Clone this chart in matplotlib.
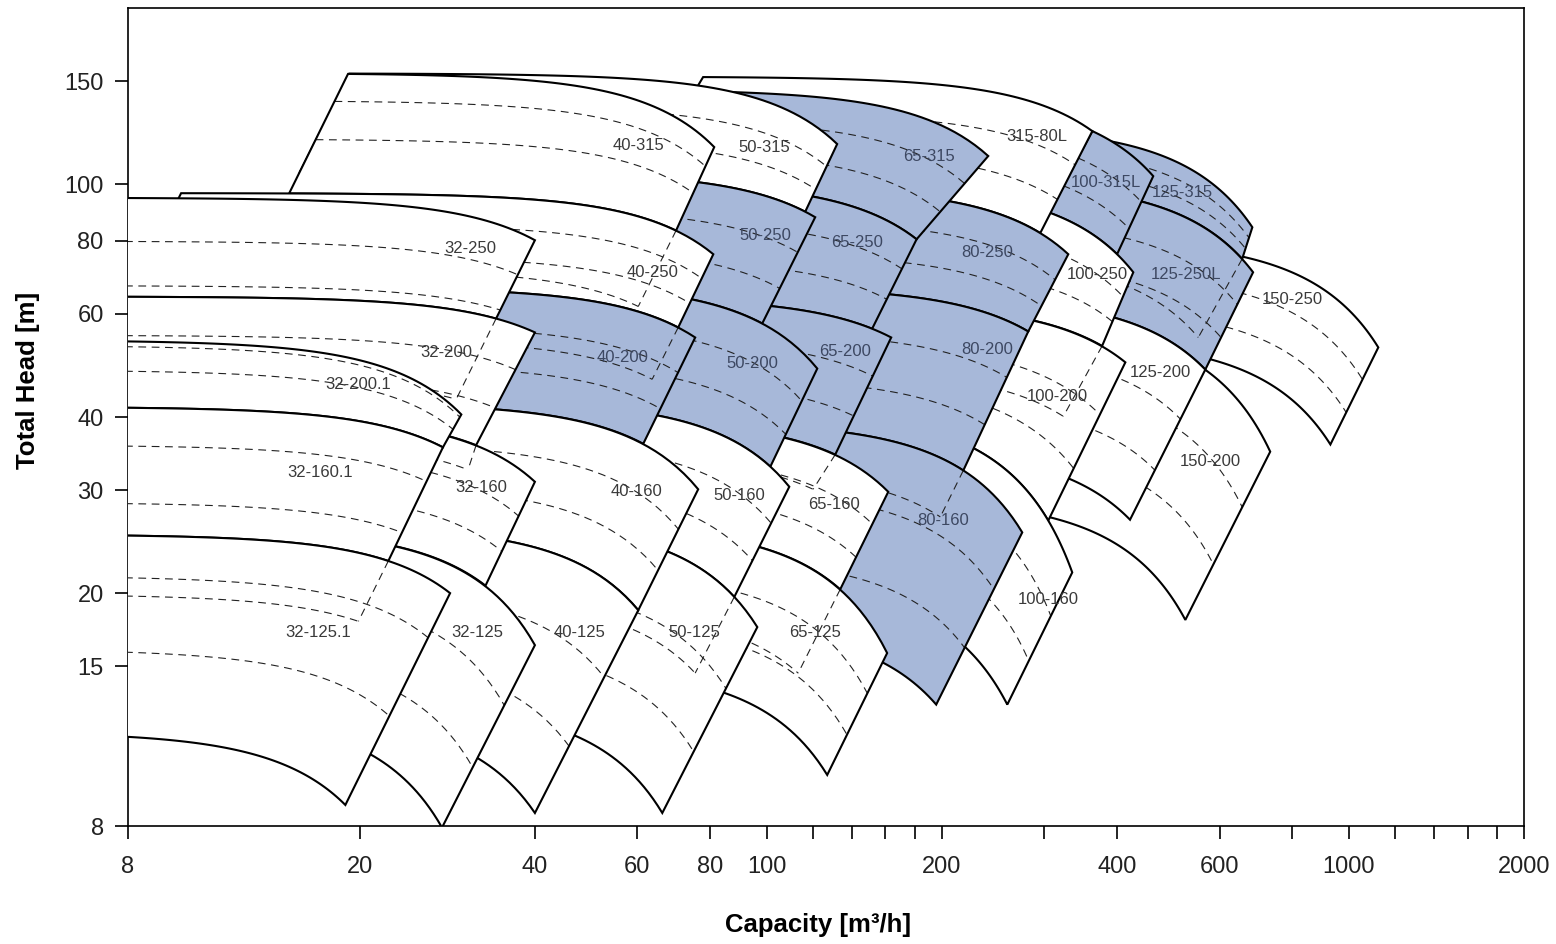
import numpy as np
import matplotlib.pyplot as plt
from matplotlib.patches import Polygon
from matplotlib.ticker import NullFormatter

plt.rcParams['font.family'] = ['Liberation Sans', 'DejaVu Sans']

# pump ranges in drawing order (right-hand families first, 32 family last)
pumps = ['150-250', '150-200', '125-315', '125-250L', '125-200',
         '100-315L', '100-250', '100-200', '100-160',
         '315-80L', '80-250', '80-200', '80-160',
         '65-315', '65-250', '65-200', '65-160', '65-125',
         '50-315', '50-250', '50-200', '50-160', '50-125',
         '40-315', '40-250', '40-200', '40-160', '40-125',
         '32-250', '32-200', '32-160', '32-125',
         '32-200.1', '32-160.1', '32-125.1']

# corners of each range: top-left, top-right (max impeller), bottom-right, bottom-left (min impeller)
tl_q = [450, 300, 300, 300, 300, 362.7, 200, 200, 200, 77.8, 60, 60, 60,
        30, 30, 30, 30, 30, 19.2, 15.8, 16, 16, 16, 19.1, 9.87, 8.2, 8.2, 8.2,
        7.5, 7.5, 7.5, 7.5, 7.5, 7.5, 7.5]
tl_h = [79.0, 57.9, 122.6, 99.0, 62.3, 123.2, 97.3, 61.4, 37.3, 152.4, 99.0, 66.8, 39.2,
        145.2, 101.2, 64.1, 39.7, 26.2, 154.5, 105.0, 67.9, 42.8, 26.7, 154.3, 96.5, 66.6, 42.3, 26.1,
        94.7, 64.2, 40.4, 25.8, 53.9, 41.5, 25.1]
tr_q = [1124, 733, 683, 685, 567, 461.5, 426.5, 413.3, 335, 362.7, 329.8, 281.5, 274.9,
        240.3, 181, 163.7, 161.8, 161.1, 132.2, 121.2, 122.2, 109.4, 96.4, 81.3, 81.0, 75.4, 76.3, 60.2,
        40, 40, 40, 40, 29.9, 27.8, 28.6]
tr_h = [52.6, 34.9, 84.4, 70.7, 48.2, 103.2, 70.7, 49.6, 21.7, 123.2, 75.9, 56.0, 25.4,
        111.7, 80.5, 54.7, 29.8, 15.8, 117.1, 87.8, 48.4, 30.4, 17.5, 115.7, 75.9, 54.7, 30.1, 18.7,
        80.2, 55.8, 31.0, 16.3, 40.4, 35.5, 20.0]
br_q = [930, 524, 656, 567, 421, 400, 377, 304.6, 259.1, 295.2, 281.5, 217.7, 195.6,
        181, 151.8, 131.2, 133.8, 127.1, 116.5, 98.3, 101.5, 88.0, 66.2, 69.9, 70.5, 61.4, 60.2, 40.0,
        34.3, 31.7, 32.9, 27.7, 27.8, 22.4, 18.9]
br_h = [35.9, 18.0, 74.5, 48.2, 26.7, 75.9, 52.9, 26.6, 12.9, 82.5, 56.0, 32.4, 12.9,
        80.5, 56.6, 34.5, 20.3, 9.78, 89.7, 57.8, 32.9, 19.7, 8.42, 83.3, 56.9, 36.0, 18.7, 8.42,
        58.9, 35.8, 20.6, 7.95, 35.5, 22.7, 8.69]
bl_q = [450, 300, 300, 300, 300, 304.6, 200, 200, 200, 60, 60, 60, 60,
        30, 30, 30, 30, 30, 15.8, 16, 16, 16, 16, 15.13, 8.2, 8.2, 8.2, 8.2,
        7.5, 7.5, 7.5, 7.5, 7.5, 7.5, 7.5]
bl_h = [52.6, 27.1, 99.0, 62.3, 32.5, 89.5, 61.4, 37.3, 17.4, 99.0, 66.8, 39.2, 17.7,
        101.2, 64.1, 39.7, 26.2, 15.0, 105.0, 67.9, 42.8, 26.7, 13.0, 96.4, 66.6, 42.3, 26.1, 12.5,
        64.2, 40.4, 25.8, 12.5, 41.5, 25.1, 11.4]

# where the name of each range sits
label_q = [800, 578, 518, 526, 474, 382, 370, 316, 305, 291, 239, 239, 201,
           190, 143, 136.5, 130.7, 121, 99.1, 99.5, 94.5, 89.7, 75.1, 60.2, 63.6, 56.5, 59.7, 47.8,
           31.0, 28.2, 32.3, 31.8, 19.9, 17.1, 17.0]
label_h = [63.6, 33.6, 96.9, 70.1, 47.7, 100.8, 70.1, 43.4, 19.5, 120.8, 76.5, 52.2, 26.6,
           111.7, 79.6, 51.8, 28.3, 17.1, 115.7, 81.8, 49.4, 29.4, 17.1, 116.2, 70.7, 50.6, 29.8, 17.1,
           77.7, 51.6, 30.3, 17.1, 45.5, 32.1, 17.1]

shaded = ['125-315', '125-250L', '100-315L', '80-250', '80-200', '80-160',
          '65-315', '65-250', '65-200', '50-250', '50-200', '40-200']

# intermediate impeller curves, as fraction of the way from top to bottom curve
dash_frac = {'32-250': [0.44, 0.89], '32-200.1': [0.08, 0.45], '32-160.1': [0.3, 0.75],
             '32-125.1': [0.21, 0.58], '40-315': [0.23, 0.55]}

# right edges continued (dashed) below the range into the next range, ending at this corner
ext_pump = ['125-315', '100-250', '80-200', '65-200', '65-160', '50-160',
            '40-315', '40-250', '32-250', '32-200', '32-160.1']
ext_q = [551.5, 323.4, 198.8, 120.2, 113.3, 75.4, 60.2, 63.6, 29.3, 30.7, 19.9]
ext_h = [54.7, 40.1, 27.0, 30.1, 14.6, 14.6, 61.8, 46.4, 42.9, 32.5, 17.9]

x_major = [8, 20, 40, 60, 80, 100, 200, 400, 600, 1000, 2000]
x_minor = [120, 140, 160, 180, 300, 800, 1200, 1400, 1600, 1800]
y_major = [8, 15, 20, 30, 40, 60, 80, 100, 150]

BLUE = '#a7b8d9'
DASH = dict(ls=(0, (7, 5)), lw=0.8, color='#222222')


def impeller(q1, h1, q2, h2, n=80):
    q = np.geomspace(q1, q2, n)
    k = (h1 - h2) / (q2 ** 3 - q1 ** 3)
    return q, h1 + k * (q1 ** 3 - q ** 3)


fig = plt.figure(figsize=(15.56, 9.44), dpi=100)
ax = fig.add_axes([128 / 1556, 118 / 944, 1396 / 1556, 818 / 944])
ax.set_xscale('log')
ax.set_yscale('log')
ax.set_xlim(8, 2000)
ax.set_ylim(8, 200)

for i, name in enumerate(pumps):
    qt, ht = impeller(tl_q[i], tl_h[i], tr_q[i], tr_h[i])
    qb, hb = impeller(bl_q[i], bl_h[i], br_q[i], br_h[i])
    pts = np.column_stack([np.concatenate([qt, qb[::-1]]), np.concatenate([ht, hb[::-1]])])
    z = 10 + 3 * i
    face = BLUE if name in shaded else 'white'
    ax.add_patch(Polygon(pts, closed=True, facecolor=face, edgecolor='none', zorder=z))
    for f in dash_frac.get(name, [0.33, 0.67]):
        q = np.exp((1 - f) * np.log(qt) + f * np.log(qb))
        h = np.exp((1 - f) * np.log(ht) + f * np.log(hb))
        ax.plot(q, h, zorder=z + 1, **DASH)
    ax.add_patch(Polygon(pts, closed=True, fill=False, edgecolor='black', lw=1.5,
                         joinstyle='miter', zorder=z + 2))
    ax.text(label_q[i], label_h[i], name, ha='center', va='center', fontsize=12,
            color='#3d4862' if name in shaded else '#3a3a3a', zorder=500)

# dashed continuation of a right edge plus the smaller impeller curve meeting it
for name, cq, ch in zip(ext_pump, ext_q, ext_h):
    i = pumps.index(name)
    z = 10 + 3 * (i + 1) + 1
    ax.plot([br_q[i], cq], [br_h[i], ch], zorder=z, **DASH)
    q, h = impeller(bl_q[i], bl_h[i] * ch / br_h[i], cq, ch)
    ax.plot(q, h, zorder=z, **DASH)

ax.set_xticks(x_major)
ax.set_xticklabels([str(v) for v in x_major])
ax.set_xticks(x_minor, minor=True)
ax.xaxis.set_minor_formatter(NullFormatter())
ax.set_yticks(y_major)
ax.set_yticklabels([str(v) for v in y_major])
ax.set_yticks([], minor=True)
ax.tick_params(which='both', direction='out', length=9.5, width=1.2, labelsize=17,
               labelcolor='#222222')
ax.tick_params(axis='x', which='both', pad=12)
ax.tick_params(axis='y', which='both', pad=8)

for sp in ax.spines.values():
    sp.set_linewidth(1.2)

fig.text(28 / 1556, 1 - 380 / 944, 'Total Head [m]', rotation=90, ha='center', va='center',
         fontsize=18.5, fontweight='bold')
fig.text(818 / 1556, 1 - 925 / 944, 'Capacity [m³/h]', ha='center', va='center',
         fontsize=18.5, fontweight='bold')

fig.savefig('out.png', dpi=100)
